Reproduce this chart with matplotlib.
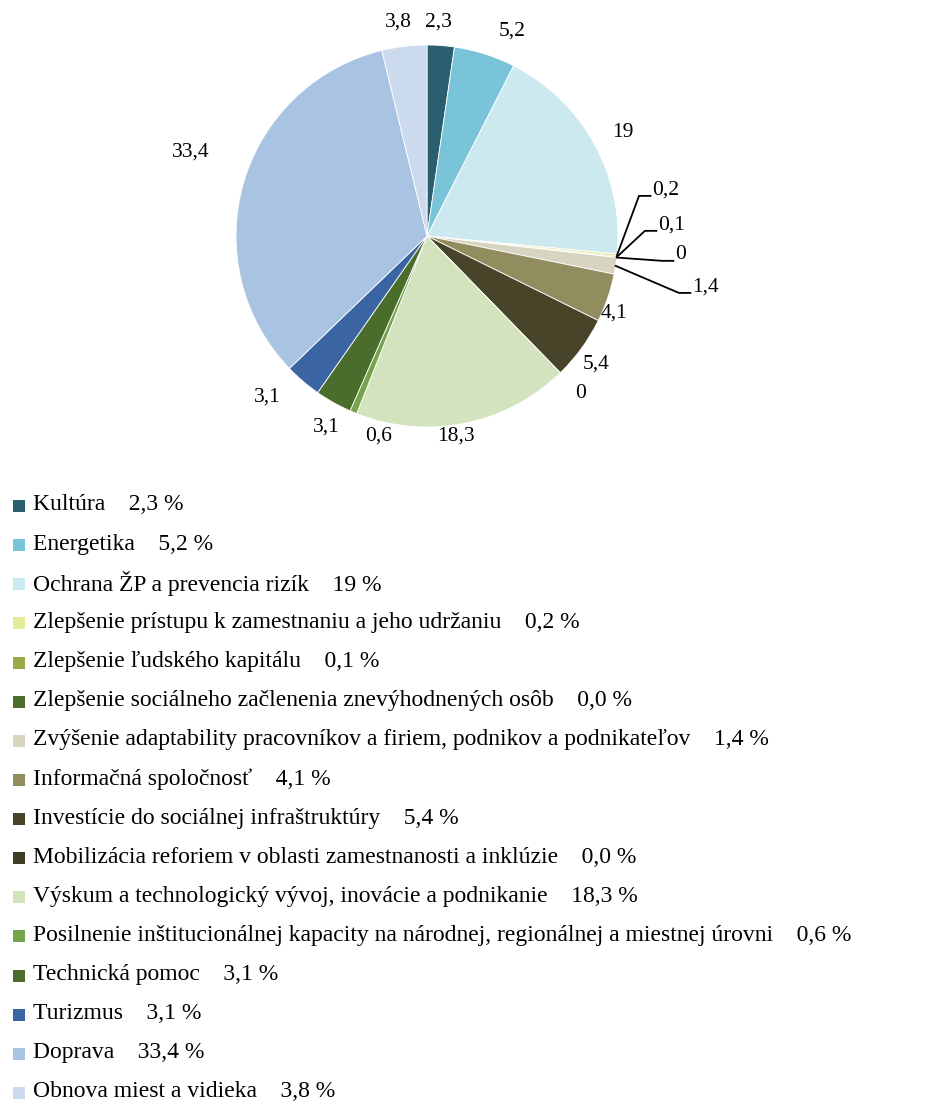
import numpy as np
import matplotlib
matplotlib.use("Agg")
import matplotlib.pyplot as plt
from matplotlib.patches import Rectangle

plt.rcParams['font.family'] = ['Liberation Serif', 'DejaVu Serif']

# %% data
names = [
    "Kultúra", "Energetika", "Ochrana ŽP a prevencia rizík",
    "Zlepšenie prístupu k zamestnaniu a jeho udržaniu",
    "Zlepšenie ľudského kapitálu",
    "Zlepšenie sociálneho začlenenia znevýhodnených osôb",
    "Zvýšenie adaptability pracovníkov a firiem, podnikov a podnikateľov",
    "Informačná spoločnosť", "Investície do sociálnej infraštruktúry",
    "Mobilizácia reforiem v oblasti zamestnanosti a inklúzie",
    "Výskum a technologický vývoj, inovácie a podnikanie",
    "Posilnenie inštitucionálnej kapacity na národnej, regionálnej a miestnej úrovni",
    "Technická pomoc", "Turizmus", "Doprava", "Obnova miest a vidieka",
]
values = [2.3, 5.2, 19, 0.2, 0.1, 0, 1.4, 4.1, 5.4, 0, 18.3, 0.6, 3.1, 3.1, 33.4, 3.8]
colors = ["#2a5f70", "#79c4d8", "#cde9f0", "#e4eb9a", "#9aaa48", "#4d6c2e",
          "#d8d4c2", "#928d5e", "#48442a", "#403d25", "#d3e3bd", "#76a44c",
          "#4a6d2b", "#3a64a2", "#a9c4e2", "#cbdaec"]

# label placement (radius factor, angle shift in degrees)
lab_dist = [1.12, 1.16, 1.16, 0, 0, 0, 0, 1.06, 1.11, 1.15, 1.06, 1.08, 1.13, 1.19, 1.31, 1.13]
lab_shift = [1, -5, -1, 0, 0, 0, 0, -3.4, -1, 0, -3, 9, 1.5, -4.3, -3.3, 0.7]
# leader-line labels: index -> text position in radius units
leader_pos = {3: (1.178, 0.241), 4: (1.209, 0.058), 5: (1.298, -0.099), 6: (1.387, -0.267)}


def fmt(v):
    return f"{v:g}".replace(".", ",")


# %%
W, H = 952, 1106
fig = plt.figure(figsize=(W / 100, H / 100), dpi=100)
ax = fig.add_axes([0, 0, 1, 1])

R = 191
cx, cy = 427, H - 236
wedges, _ = ax.pie(values, colors=colors, startangle=90, counterclock=False,
                   radius=R, center=(cx, cy),
                   wedgeprops=dict(edgecolor="white", linewidth=0.6))
ax.set_xlim(0, W)
ax.set_ylim(0, H)
ax.set_aspect("auto")
ax.axis("off")

for i, w in enumerate(wedges):
    mid = np.deg2rad((w.theta1 + w.theta2) / 2)
    if i in leader_pos:
        tx, ty = leader_pos[i]
        sx, sy = cx + R * np.cos(mid), cy + R * np.sin(mid)
        ex, ey = cx + R * (tx - 0.068), cy + R * (ty - 0.031)
        fx = cx + R * (tx - 0.008)
        ax.plot([sx, ex, fx], [sy, ey, ey], color="black", lw=1.3,
                solid_joinstyle="miter")
        ax.text(cx + R * tx, cy + R * ty, fmt(values[i]), ha="left",
                va="center", fontsize=15.5)
    else:
        a = mid + np.deg2rad(lab_shift[i])
        ax.text(cx + R * lab_dist[i] * np.cos(a), cy + R * lab_dist[i] * np.sin(a),
                fmt(values[i]), ha="center", va="center", fontsize=15.5)

# legend, one row per slice
row0, step = 505, 39.13
for i, (n, v, c) in enumerate(zip(names, values, colors)):
    y = H - (row0 + i * step)
    ax.add_patch(Rectangle((13, y - 7), 12, 12, facecolor=c, edgecolor="none"))
    val = "0,0" if v == 0 else fmt(v)
    ax.text(33, y, f"{n}    {val} %", ha="left", va="center", fontsize=17)

fig.savefig("out.png", dpi=100)
